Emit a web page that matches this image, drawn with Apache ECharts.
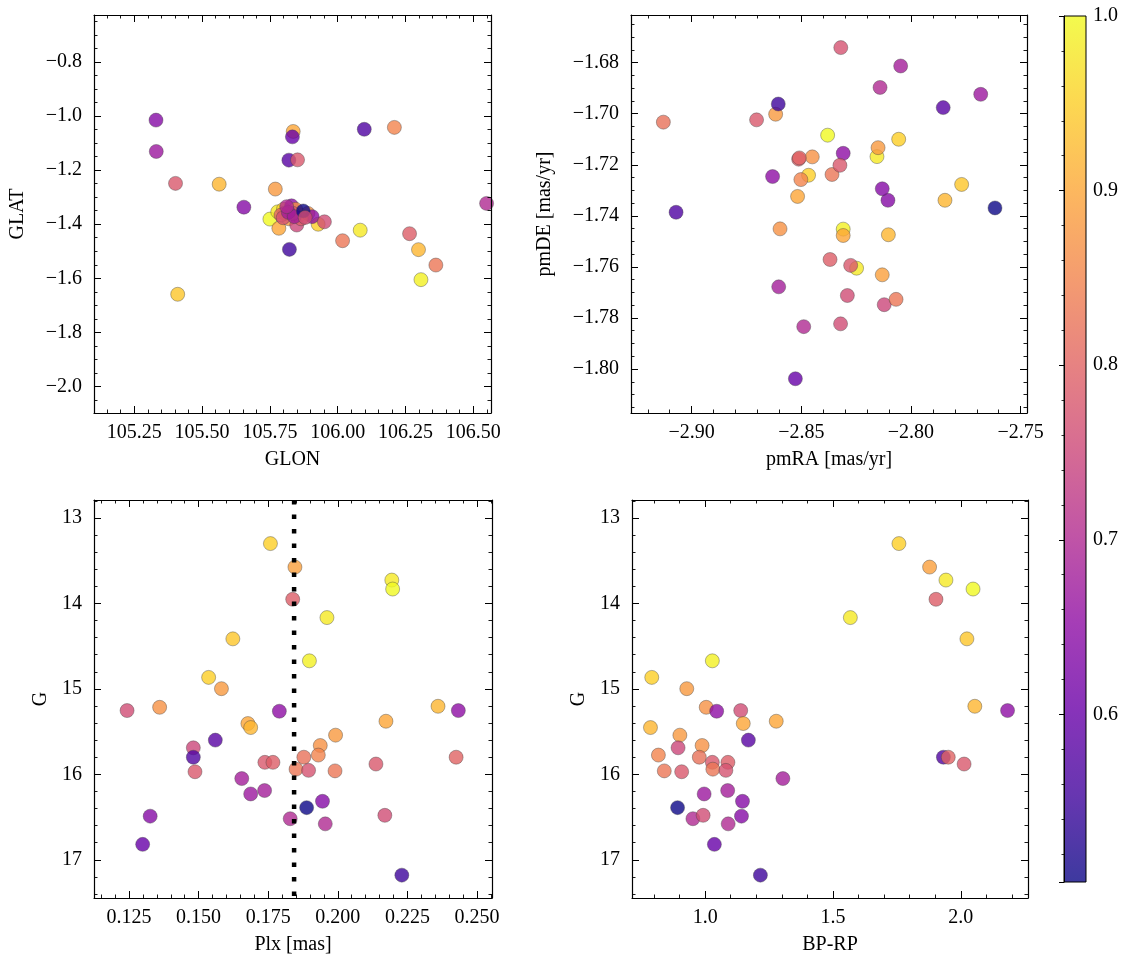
<!DOCTYPE html>
<html>
<head>
<meta charset="utf-8">
<script src="https://cdn.jsdelivr.net/npm/echarts@6/dist/echarts.min.js"></script>
<style>
html,body{margin:0;padding:0;background:#fff;}
#chart{width:1133px;height:965px;}
</style>
</head>
<body>
<div id="chart"></div>
<script>
// ---- data (one entry per star) ----
const prob = [0.95,0.89,0.98,1.00,0.79,0.98,0.94,0.99,0.95,0.88,0.92,0.87,0.65,0.76,0.65,0.90,0.90,0.92,0.88,0.58,0.75,0.87,0.85,0.82,0.57,0.80,0.78,0.78,0.83,0.79,0.77,0.83,0.78,0.68,0.67,0.68,0.64,0.504,0.70,0.76,0.64,0.70,0.60,0.55];
const glon = [105.928,105.86,106.083,105.75,106.265,105.779,105.41,106.307,105.80,105.77,105.563,105.89,105.906,105.951,105.830,105.836,105.783,106.298,105.82,105.82,105.849,105.845,106.209,105.805,106.098,105.791,105.402,105.852,106.018,105.865,105.799,106.362,105.835,105.818,105.331,105.840,105.33,105.873,106.549,105.88,105.654,105.812,105.833,105.822];
const glat = [-1.400,-1.365,-1.422,-1.381,-1.435,-1.354,-1.659,-1.605,-1.345,-1.270,-1.252,-1.36,-1.372,-1.391,-1.332,-1.057,-1.415,-1.494,-1.38,-1.163,-1.403,-1.345,-1.042,-1.36,-1.049,-1.366,-1.249,-1.162,-1.461,-1.38,-1.376,-1.551,-1.36,-1.356,-1.131,-1.372,-1.015,-1.351,-1.323,-1.375,-1.337,-1.335,-1.077,-1.493];
const pmra = [-2.8467,-2.8131,-2.8248,-2.838,-2.8512,-2.8155,-2.7769,-2.8309,-2.8056,-2.8617,-2.7845,-2.845,-2.8309,-2.8321,-2.8631,-2.8517,-2.8309,-2.8103,-2.815,-2.7853,-2.8122,-2.8597,-2.8502,-2.9129,-2.9071,-2.8509,-2.8704,-2.8275,-2.836,-2.8369,-2.832,-2.8068,-2.8324,-2.8603,-2.7682,-2.8047,-2.8105,-2.7617,-2.8489,-2.829,-2.8131,-2.8141,-2.8527,-2.8605];
const pmde = [-1.7241,-1.7631,-1.7605,-1.7084,-1.7178,-1.7168,-1.7277,-1.7452,-1.7100,-1.7002,-1.7339,-1.7169,-1.7155,-1.7823,-1.7246,-1.7324,-1.7477,-1.7474,-1.7133,-1.6976,-1.7748,-1.7451,-1.7258,-1.7033,-1.7386,-1.7173,-1.7024,-1.7594,-1.7238,-1.7571,-1.6741,-1.7727,-1.7202,-1.7678,-1.6924,-1.6813,-1.7339,-1.7369,-1.7834,-1.7712,-1.7294,-1.6897,-1.8038,-1.6962];
const plx = [0.1758,0.1846,0.2194,0.2197,0.1838,0.1961,0.1623,0.1898,0.1536,0.1582,0.236,0.136,0.179,0.1243,0.2433,0.2173,0.1677,0.1687,0.1992,0.156,0.1481,0.1937,0.193,0.1878,0.1481,0.2425,0.2137,0.1738,0.185,0.1767,0.1895,0.199,0.1487,0.1655,0.1687,0.1737,0.1945,0.1888,0.1829,0.2169,0.1326,0.1955,0.1299,0.223];
const gmag = [13.30,13.575,13.727,13.832,13.952,14.166,14.415,14.672,14.866,14.998,15.204,15.216,15.262,15.254,15.254,15.379,15.406,15.453,15.542,15.60,15.69,15.663,15.775,15.80,15.80,15.80,15.88,15.86,15.94,15.86,15.954,15.96,15.97,16.05,16.23,16.19,16.316,16.39,16.52,16.48,16.49,16.58,16.82,17.18];
const bprp = [1.758,1.878,1.942,2.048,1.903,1.568,2.024,1.028,0.791,0.928,2.055,1.004,1.045,1.139,2.183,1.278,1.149,0.786,0.901,1.169,0.894,0.988,0.817,0.977,1.932,1.951,2.013,1.028,1.030,1.089,1.081,0.840,0.908,1.304,0.996,1.088,1.146,0.892,0.952,0.992,1.142,1.090,1.036,1.216];
const plxMean = 0.1843;
const colorMin = 0.504, colorMax = 1.0;

// plasma colormap
const plasma = ['#0d0887','#41049d','#6a00a8','#8f0da4','#b12a90','#cc4778','#e16462','#f2844b','#fca636','#fcce25','#f0f921'];

const FONT = 'Liberation Serif';
const fmt = (dec, step) => v => {
  const k = v / step;
  if (Math.abs(k - Math.round(k)) > 1e-6) return '';
  return v.toFixed(dec).replace('-', '\u2212');
};
const nameStyle = {color:'#000', fontFamily:FONT, fontSize:20};

function xAx(gi, min, max, step, minor, dec, name, main) {
  return {
    type:'value', gridIndex:gi, position: main ? 'bottom' : 'top', z:5,
    min, max, minInterval:step, maxInterval:step, splitNumber:Math.round((max-min)/step),
    axisLine:{show:true, onZero:false, lineStyle:{color:'#000', width:1.2}},
    axisTick:{show:true, inside:true, length:7, lineStyle:{color:'#000', width:1}},
    minorTick:{show:true, splitNumber:minor, length:3.5, lineStyle:{color:'#000', width:0.9}},
    splitLine:{show:false},
    axisLabel:{show:main, formatter:fmt(dec, step), color:'#000', fontFamily:FONT, fontSize:20, margin:10},
    name: main ? name : '', nameLocation:'middle', nameGap:37, nameTextStyle:nameStyle
  };
}
function yAx(gi, min, max, step, minor, dec, name, main, gap, inverse) {
  return {
    type:'value', gridIndex:gi, position: main ? 'left' : 'right', z:5, inverse: !!inverse,
    min, max, minInterval:step, maxInterval:step, splitNumber:Math.round((max-min)/step),
    axisLine:{show:true, onZero:false, lineStyle:{color:'#000', width:1.2}},
    axisTick:{show:true, inside:true, length:7, lineStyle:{color:'#000', width:1}},
    minorTick:{show:true, splitNumber:minor, length:3.5, lineStyle:{color:'#000', width:0.9}},
    splitLine:{show:false},
    axisLabel:{show:main, formatter:fmt(dec, step), color:'#000', fontFamily:FONT, fontSize:20, margin:12},
    name: main ? name : '', nameLocation:'middle', nameGap:gap, nameRotate:90, nameTextStyle:nameStyle
  };
}

const xr = [
  [105.1014, 106.5653, 0.25, 5, 2, 'GLON'],
  [-2.92765, -2.7471, 0.05, 5, 2, 'pmRA [mas/yr]'],
  [0.11242, 0.25539, 0.025, 5, 3, 'Plx [mas]'],
  [0.7137, 2.263, 0.5, 5, 1, 'BP-RP']
];
const yr = [
  [-2.098, -0.6264, 0.2, 4, 1, 'GLAT', 66, false],
  [-1.81722, -1.66133, 0.02, 4, 2, 'pmDE [mas/yr]', 76, false],
  [12.79, 17.4476, 1, 5, 0, 'G', 43, true],
  [12.79, 17.4476, 1, 5, 0, 'G', 43, true]
];

const xAxes = [], yAxes = [];
for (let i = 0; i < 4; i++) {
  const x = xr[i], y = yr[i];
  xAxes.push(xAx(i, x[0], x[1], x[2], x[3], x[4], x[5], true));
  xAxes.push(xAx(i, x[0], x[1], x[2], x[3], x[4], x[5], false));
  yAxes.push(yAx(i, y[0], y[1], y[2], y[3], y[4], y[5], true, y[6], y[7]));
  yAxes.push(yAx(i, y[0], y[1], y[2], y[3], y[4], y[5], false, y[6], y[7]));
}
// colorbar axes
xAxes.push({type:'value', gridIndex:4, min:0, max:1, show:false});
yAxes.push({
  type:'value', gridIndex:4, position:'right', z:10,
  min:colorMin, max:colorMax, minInterval:0.1, maxInterval:0.1, splitNumber:5,
  axisLine:{show:true, lineStyle:{color:'#000', width:1}},
  axisTick:{show:true, inside:true, length:5, lineStyle:{color:'#000', width:1}},
  minorTick:{show:true, splitNumber:5, length:2.5, lineStyle:{color:'#000', width:0.8}},
  splitLine:{show:false},
  axisLabel:{formatter:fmt(1, 0.1), color:'#000', fontFamily:FONT, fontSize:20, margin:7}
});

const panels = [[glon, glat], [pmra, pmde], [plx, gmag], [bprp, gmag]];
const series = panels.map((p, i) => ({
  type:'scatter', xAxisIndex:2*i, yAxisIndex:2*i, z:2,
  symbol:'circle', symbolSize:14,
  itemStyle:{opacity:0.8, borderColor:'#444', borderWidth:0.5},
  data: p[0].map((v, k) => [v, p[1][k], prob[k]]),
  clip:true, silent:true
}));
// mean parallax: dotted vertical line spanning the panel
series.push({
  type:'line', xAxisIndex:4, yAxisIndex:4, z:4, silent:true, symbol:'none',
  lineStyle:{color:'#000', width:4.5, type:[4.5, 10], cap:'butt'},
  data:[[plxMean, yr[2][0]], [plxMean, yr[2][1]]]
});
series.push({
  type:'custom', xAxisIndex:8, yAxisIndex:8, z:1, silent:true,
  data:[[0, colorMin, 1, colorMax]],
  renderItem:(params, api) => {
    const p0 = api.coord([api.value(0), api.value(1)]);
    const p1 = api.coord([api.value(2), api.value(3)]);
    return {type:'rect',
      shape:{x:p0[0], y:p1[1], width:p1[0]-p0[0], height:p0[1]-p1[1]},
      style:{fill:new echarts.graphic.LinearGradient(0, 1, 0, 0,
        plasma.map((c, j) => ({offset:j/(plasma.length-1), color:c}))), opacity:0.8}};
  }
});

const option = {
  backgroundColor:'#fff',
  animation:false,
  grid:[
    {left:94, top:15, width:397, height:398},
    {left:631, top:15, width:396, height:398},
    {left:94, top:500, width:398, height:398},
    {left:632, top:500, width:396, height:398},
    {left:1064, top:16, width:22, height:866, show:true, borderColor:'#000', borderWidth:1, z:10}
  ],
  xAxis:xAxes,
  yAxis:yAxes,
  visualMap:{type:'continuous', show:false, min:colorMin, max:colorMax, dimension:2,
    seriesIndex:[0,1,2,3], inRange:{color:plasma}},
  series
};
const chart = echarts.init(document.getElementById('chart'), null, {renderer:'canvas'});
chart.setOption(option);
</script>
</body>
</html>
